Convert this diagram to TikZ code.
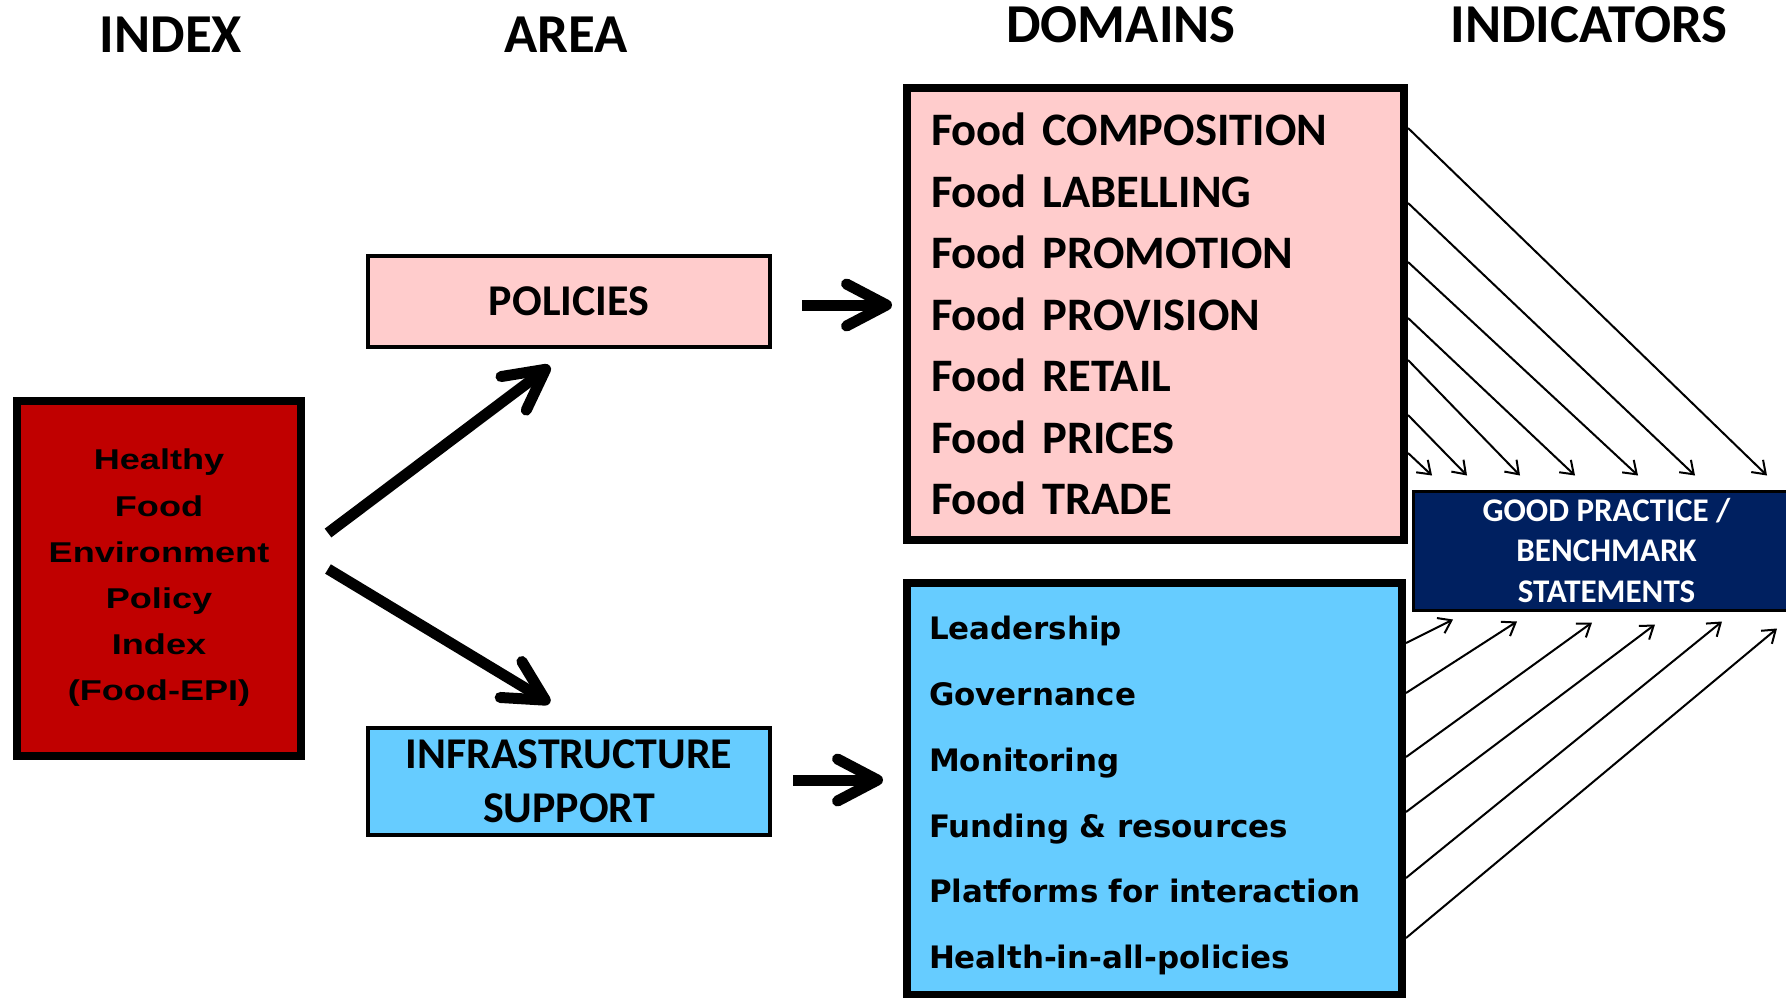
\documentclass[tikz,border=0pt]{standalone}
\usepackage{fontspec}
\usetikzlibrary{arrows.meta, calc}
\newfontfamily\calibri{Carlito}
\newfontfamily\verdana{DejaVu Sans}
\newfontfamily\arialwide[FakeStretch=1.26]{Liberation Sans}
\definecolor{pinkbox}{HTML}{FFCCCC}
\definecolor{bluebox}{HTML}{66CCFF}
\definecolor{epired}{HTML}{C00000}
\definecolor{navy}{HTML}{002060}
\tikzset{
  head/.style = {font=\calibri\bfseries\fontsize{31.2}{36}\selectfont},
  areabox/.style = {draw, line width=0.8mm, minimum width=80.4mm, align=center,
    font=\calibri\bfseries\fontsize{25}{30.7}\selectfont},
  domainbox/.style = {draw, line width=1.6mm, align=left},
  bigarrow/.style = {line width=2.2mm, -{Straight Barb[length=8mm, width=8.4mm, round]}},
  thinarrow/.style = {line width=0.4mm, -{Straight Barb[length=2.4mm, width=3.4mm]}}
}

\begin{document}
\begin{tikzpicture}[x=0.2mm, y=-0.2mm]
\useasboundingbox (0,0) rectangle (1786,997);

% column headings
\node[head] (hindex) at (171,35) {INDEX};
\node[head] (harea) at (566,35) {AREA};
\node[head] (hdomains) at (1121,25) {DOMAINS};
\node[head] (hindicators) at (1589,25) {INDICATORS};

% index
\node[draw, line width=1.6mm, fill=epired, minimum width=56.8mm, minimum height=71mm,
  align=center, font=\arialwide\bfseries\fontsize{16.3}{26.3}\selectfont] (epi) at (159,578)
  {Healthy\\Food\\Environment\\Policy\\Index\\(Food-EPI)};

% areas
\node[areabox, fill=pinkbox, minimum height=18.2mm] (policies) at (569,301.5) {POLICIES};
\node[areabox, fill=bluebox, minimum height=21.4mm] (infra) at (569,781.5) {INFRASTRUCTURE\\SUPPORT};

% domains
\node[domainbox, fill=pinkbox, inner xsep=4.8mm, text width=89.8mm, minimum height=90.4mm,
  font=\calibri\bfseries\fontsize{26.5}{35}\selectfont] (domP) at (1155.5,314)
  {Food COMPOSITION\\Food LABELLING\\Food PROMOTION\\Food PROVISION\\Food RETAIL\\Food PRICES\\Food TRADE};
\node[domainbox, fill=bluebox, inner xsep=4.4mm, text width=90.2mm, minimum height=82.4mm,
  font=\verdana\bfseries\fontsize{17.6}{37.4}\selectfont] (domI) at (1154.5,789)
  {\rule{0pt}{21pt}Leadership\\Governance\\Monitoring\\Funding \& resources\\Platforms for interaction\\Health-in-all-policies};

% indicators
\node[draw, line width=0.6mm, fill=navy, text=white, minimum width=77.4mm, minimum height=23.8mm,
  align=center, font=\calibri\bfseries\fontsize{18.8}{22.8}\selectfont] (gp) at (1606.5,550.5)
  {GOOD PRACTICE /\\BENCHMARK\\STATEMENTS};

% thick arrows
\draw[bigarrow] ($(epi.east)+(23,-45)$) -- ($(policies.south)+(-19,17)$);
\draw[bigarrow] ($(epi.east)+(23,-9)$) -- ($(infra.north)+(-19,-23)$);
\draw[bigarrow] ($(policies.east)+(30,3.5)$) -- ($(policies.east -| domP.west)+(-11,3.5)$);
\draw[bigarrow] ($(infra.east)+(21,-1.5)$) -- ($(infra.east -| domI.west)+(-20,-1.5)$);

% domains to statements
\foreach \ya/\xb in {128/1767, 203/1695, 262/1638, 318/1575, 360/1520, 415/1467, 453/1432}
  \draw[thinarrow] (domP.east |- 0,\ya) -- ($(gp.north -| \xb,0)+(0,-14)$);
\foreach \yb/\xb/\dy in {643/1453/8, 693/1517/10, 757/1592/11, 812/1655/13, 878/1722/10, 938/1777/17}
  \draw[thinarrow] (domI.east |- 0,\yb) -- ($(gp.south -| \xb,0)+(0,\dy)$);
\end{tikzpicture}
\end{document}
